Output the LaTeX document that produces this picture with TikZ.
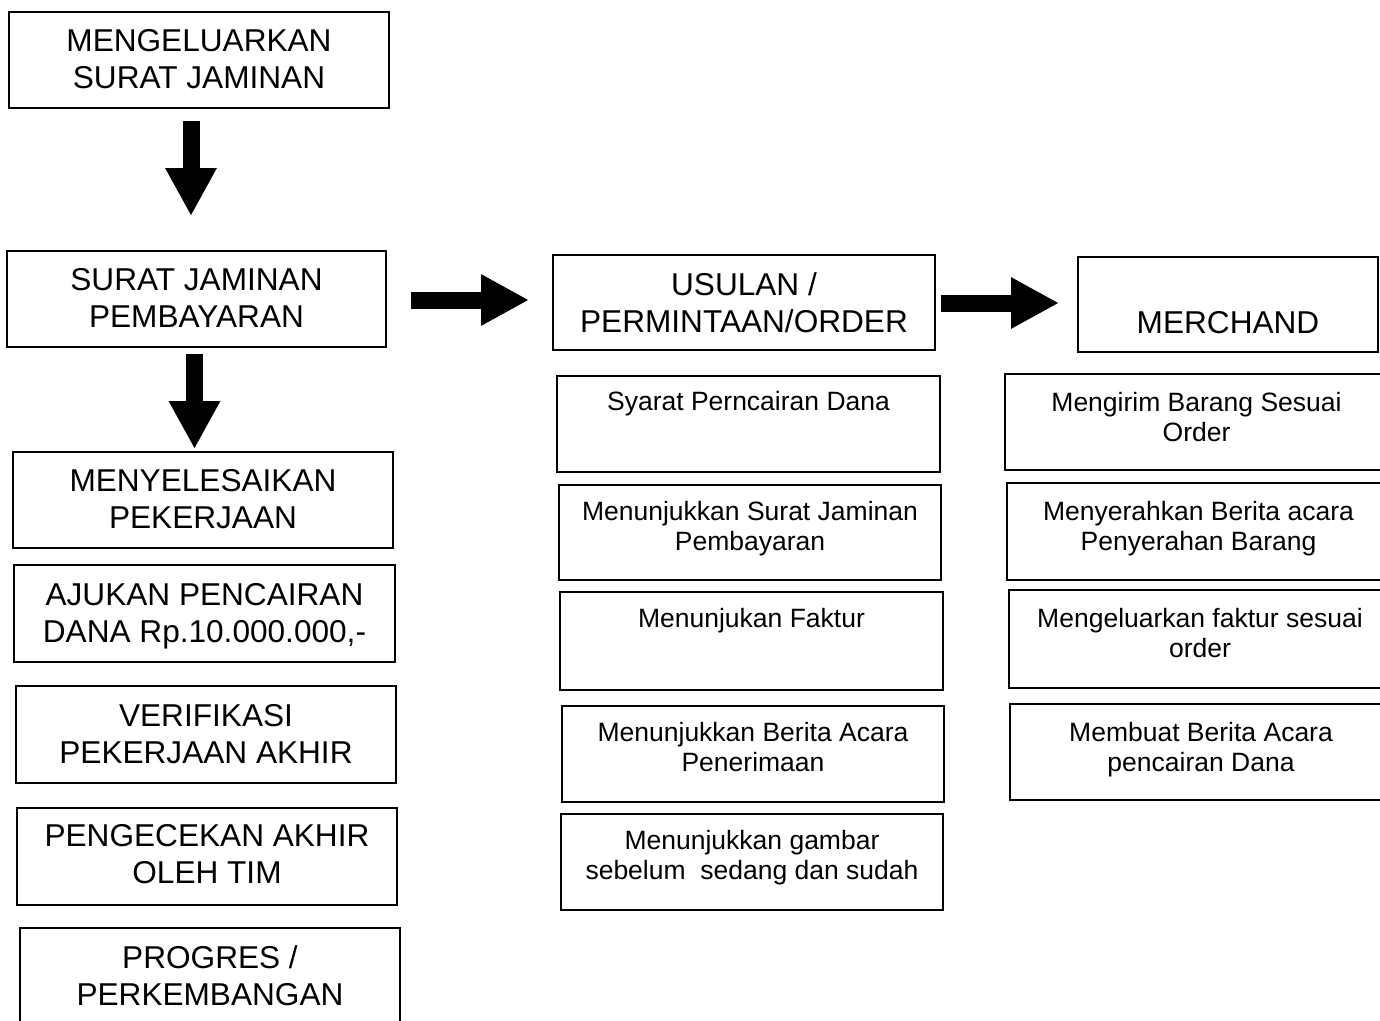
\documentclass[tikz,border=0pt]{standalone}
\usepackage{fontspec}
\setmainfont{Liberation Sans}
\usetikzlibrary{arrows.meta}
\begin{document}
\begin{tikzpicture}[x=1pt,y=-1pt,
  box/.style={draw, line width=1.9pt, inner sep=0pt, rectangle},
  big/.style={font=\fontsize{31.6}{37}\selectfont, align=center, inner sep=0pt, anchor=north},
  small/.style={font=\fontsize{26.5}{30}\selectfont, align=center, inner sep=0pt, anchor=north},
  fat/.style={line width=17pt, -{Triangle[length=48pt,width=48pt]}}]
\useasboundingbox (0,0) rectangle (1380,1020);

% left column
\node[box, minimum width=380pt, minimum height=96pt] (b1) at (199,60) {};
\node[big] (b1t) at ([yshift=-18pt]b1.north) {MENGELUARKAN\\SURAT JAMINAN};
\node[box, minimum width=379pt, minimum height=96pt] (b2) at (196.5,299) {};
\node[big] (b2t) at ([yshift=-18pt]b2.north) {SURAT JAMINAN\\PEMBAYARAN};
\node[box, minimum width=380pt, minimum height=96pt] (l3) at (203,500) {};
\node[big] (l3t) at ([yshift=-18pt]l3.north) {MENYELESAIKAN\\PEKERJAAN};
\node[box, minimum width=381pt, minimum height=97pt] (l4) at (204.5,613.5) {};
\node[big] (l4t) at ([yshift=-19pt]l4.north) {AJUKAN PENCAIRAN\\DANA Rp.10.000.000,-};
\node[box, minimum width=380pt, minimum height=97pt] (l5) at (206,734.5) {};
\node[big] (l5t) at ([yshift=-19pt]l5.north) {VERIFIKASI\\PEKERJAAN AKHIR};
\node[box, minimum width=380pt, minimum height=97pt] (l6) at (207,856.5) {};
\node[big] (l6t) at ([yshift=-17pt]l6.north) {PENGECEKAN AKHIR\\OLEH TIM};
\node[box, minimum width=380pt, minimum height=96pt] (l7) at (210,976) {};
\node[big] (l7t) at ([yshift=-18pt]l7.north) {PROGRES /\\PERKEMBANGAN};

% middle column
\node[box, minimum width=382pt, minimum height=95pt] (b3) at (744,302.5) {};
\node[big] (b3t) at ([yshift=-18pt]b3.north) {USULAN /\\PERMINTAAN/ORDER};
\node[box, minimum width=383pt, minimum height=96pt] (m1) at (748.5,424) {};
\node[small] (m1t) at ([yshift=-16pt]m1.north) {Syarat Perncairan Dana};
\node[box, minimum width=382pt, minimum height=95pt] (m2) at (750,532.5) {};
\node[small] (m2t) at ([yshift=-17pt]m2.north) {Menunjukkan Surat Jaminan\\Pembayaran};
\node[box, minimum width=383pt, minimum height=98pt] (m3) at (751.5,641) {};
\node[small] (m3t) at ([yshift=-17pt]m3.north) {Menunjukan Faktur};
\node[box, minimum width=382pt, minimum height=96pt] (m4) at (753,754) {};
\node[small] (m4t) at ([yshift=-17pt]m4.north) {Menunjukkan Berita Acara\\Penerimaan};
\node[box, minimum width=382pt, minimum height=96pt] (m5) at (752,862) {};
\node[small] (m5t) at ([yshift=-17pt]m5.north) {Menunjukkan gambar\\sebelum\ \ sedang dan sudah};

% right column
\node[box, minimum width=300pt, minimum height=95pt] (b4) at (1228,304.5) {};
\node[big] (b4t) at ([yshift=-55pt]b4.north) {MERCHAND};
\node[box, minimum width=383pt, minimum height=96pt] (r1) at (1196.5,422) {};
\node[small] (r1t) at ([yshift=-19pt]r1.north) {Mengirim Barang Sesuai\\Order};
\node[box, minimum width=383pt, minimum height=97pt] (r2) at (1198.5,531.5) {};
\node[small] (r2t) at ([yshift=-19pt]r2.north) {Menyerahkan Berita acara\\Penyerahan Barang};
\node[box, minimum width=382pt, minimum height=98pt] (r3) at (1200,639) {};
\node[small] (r3t) at ([yshift=-19pt]r3.north) {Mengeluarkan faktur sesuai\\order};
\node[box, minimum width=382pt, minimum height=96pt] (r4) at (1201,752) {};
\node[small] (r4t) at ([yshift=-19pt]r4.north) {Membuat Berita Acara\\pencairan Dana};

% block arrows
\draw[fat] ([xshift=-8pt,yshift=-12pt]b1.south) -- ([xshift=-5.5pt,yshift=34pt]b2.north);
\draw[fat] ([xshift=-2pt,yshift=-6pt]b2.south) -- ([xshift=-8.5pt,yshift=2pt]l3.north);
\draw[fat] ([xshift=24pt,yshift=-1pt]b2.east) -- ([xshift=-23pt,yshift=2.5pt]b3.west);
\draw[fat] ([xshift=5pt,yshift=-0.5pt]b3.east) -- ([xshift=-18pt,yshift=1.5pt]b4.west);
\end{tikzpicture}
\end{document}
